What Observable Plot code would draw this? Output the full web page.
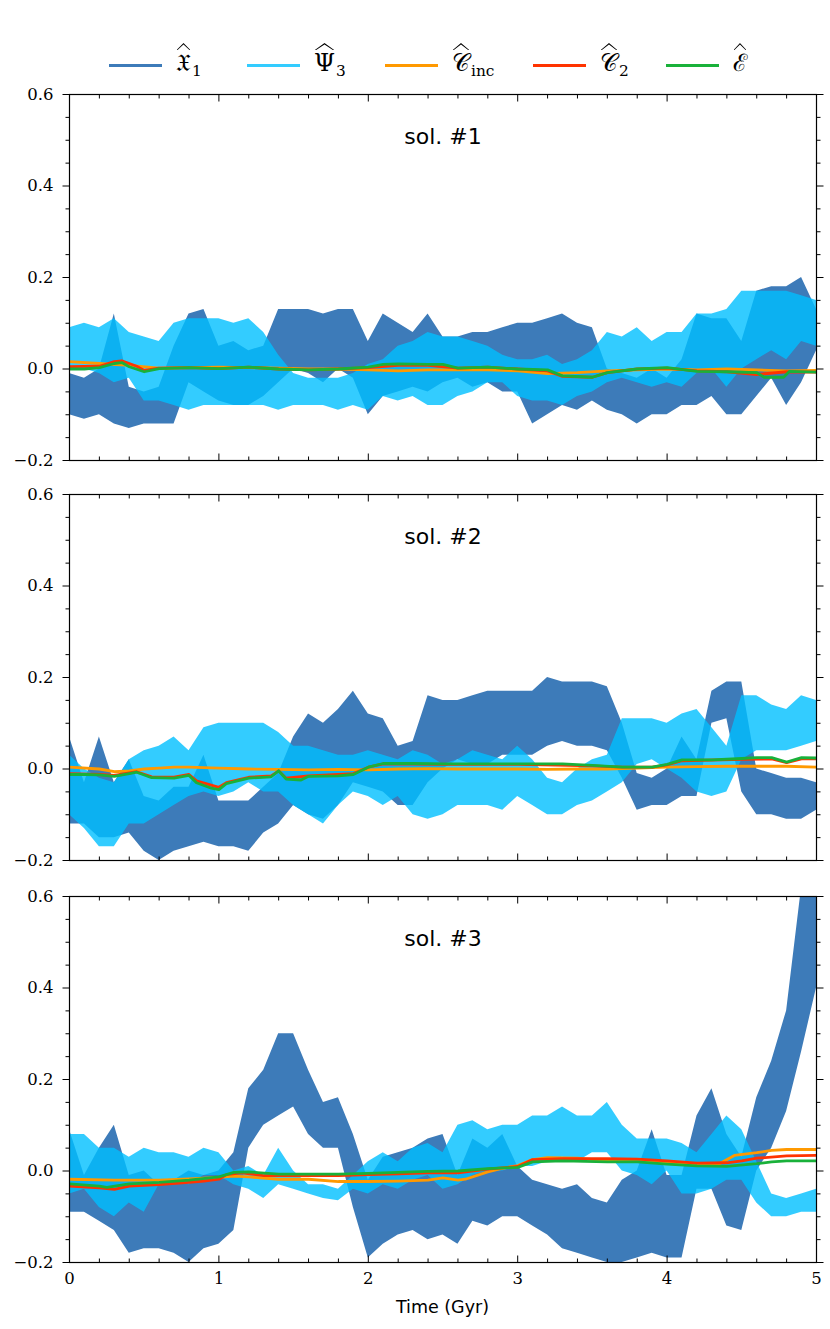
<!DOCTYPE html>
<html><head><meta charset="utf-8">
<script src="https://cdn.jsdelivr.net/npm/d3@7"></script>
<script src="https://cdn.jsdelivr.net/npm/@observablehq/plot@0.6"></script>
<style>
body{margin:0;background:#fff;width:830px;}
#legend{position:relative;height:84px;font-family:"DejaVu Serif",serif;color:#000;}
.sw{position:absolute;top:63.5px;width:53px;height:3px;}
.lab{position:absolute;top:48px;font-size:24px;line-height:30px;white-space:nowrap;}
.acc{position:relative;display:inline-block;}
.acc::after{content:"";position:absolute;left:4%;width:92%;top:-5px;height:7px;background:#000;
  clip-path:polygon(0 100%,50% 0,100% 100%,93% 100%,50% 22%,7% 100%);}
.sub{font-size:0.64em;position:relative;top:0.3em;margin-left:1px;}
#xlabel{height:31px;padding-left:69px;width:747px;text-align:center;font-family:"DejaVu Sans",sans-serif;font-size:17.5px;line-height:18px;}
svg{display:block}
</style></head>
<body>
<div id="legend"></div>
<div id="charts"></div>
<div id="xlabel">Time (Gyr)</div>
<script>
// ---------- data ----------
const timeGrid = [0.0,0.1,0.2,0.3,0.4,0.5,0.6,0.7,0.8,0.9,
  1.0,1.1,1.2,1.3,1.4,1.5,1.6,1.7,1.8,1.9,
  2.0,2.1,2.2,2.3,2.4,2.5,2.6,2.7,2.8,2.9,
  3.0,3.1,3.2,3.3,3.4,3.5,3.6,3.7,3.8,3.9,
  4.0,4.1,4.2,4.3,4.4,4.5,4.6,4.7,4.8,4.9,5.0];

const xMajor = [0,1,2,3,4,5];
const xMinor = [0.2,0.4,0.6,0.8,1.2,1.4,1.6,1.8,2.2,2.4,2.6,2.8,3.2,3.4,3.6,3.8,4.2,4.4,4.6,4.8];
const yMajor = [-0.2,0,0.2,0.4,0.6];
const yMinor = [-0.15,-0.1,-0.05,0.05,0.1,0.15,0.25,0.3,0.35,0.45,0.5,0.55];
const panelTitles = ["sol. #1","sol. #2","sol. #3"];

// sol 1  (noisy series: envelope low / high on timeGrid)
const sol1X1Lo = [-0.10,-0.11,-0.10,-0.12,-0.13,-0.12,-0.12,-0.12,-0.03,-0.05,
 -0.07,-0.08,-0.08,-0.06,-0.03,0.00,-0.01,-0.03,0.00,-0.02,
 -0.10,-0.06,-0.05,-0.04,-0.05,-0.03,-0.02,-0.04,-0.03,-0.05,
 -0.05,-0.12,-0.10,-0.08,-0.09,-0.07,-0.09,-0.10,-0.12,-0.10,
 -0.10,-0.08,-0.08,-0.06,-0.10,-0.10,-0.06,-0.02,-0.08,-0.03,
 0.04];
const sol1X1Hi = [-0.01,-0.02,0.00,0.12,-0.04,-0.05,-0.04,0.05,0.12,0.13,
 0.05,0.06,0.04,0.05,0.13,0.13,0.13,0.12,0.13,0.13,
 0.06,0.12,0.10,0.08,0.12,0.07,0.07,0.08,0.08,0.09,
 0.10,0.10,0.11,0.12,0.10,0.09,0.00,-0.01,-0.02,0.00,
 -0.02,0.02,0.12,0.11,0.11,0.06,0.17,0.18,0.18,0.20,
 0.13];
const sol1PsiLo = [0.00,0.00,-0.01,-0.03,-0.02,-0.07,-0.07,-0.08,-0.09,-0.08,
 -0.08,-0.08,-0.08,-0.08,-0.09,-0.08,-0.08,-0.08,-0.09,-0.08,
 -0.09,-0.06,-0.07,-0.06,-0.08,-0.08,-0.06,-0.05,-0.03,-0.03,
 -0.06,-0.07,-0.07,-0.08,-0.06,-0.05,-0.03,-0.02,-0.03,-0.04,
 -0.03,-0.04,-0.01,0.00,-0.04,0.00,0.02,0.04,0.02,0.06,
 0.05];
const sol1PsiHi = [0.09,0.10,0.09,0.11,0.08,0.07,0.06,0.10,0.11,0.11,
 0.11,0.10,0.11,0.08,0.03,-0.01,-0.02,-0.02,-0.02,-0.01,
 0.01,0.02,0.05,0.06,0.08,0.07,0.07,0.06,0.05,0.03,
 0.02,0.02,0.03,0.01,0.02,0.04,0.08,0.07,0.09,0.06,
 0.08,0.08,0.12,0.12,0.13,0.17,0.17,0.17,0.17,0.16,
 0.15];
const sol1Cinc = [[0,0.016],[0.2,0.012],[0.4,0.008],[0.6,0.002],[0.8,0.003],[1.0,0.004],[1.2,0.003],[1.4,0.002],[1.6,0.0],[1.8,0.0],[2.0,-0.002],[2.2,-0.004],[2.4,-0.002],[2.6,-0.002],[2.8,-0.002],[3.0,-0.004],[3.2,-0.01],[3.4,-0.008],[3.6,-0.004],[3.8,-0.002],[4.0,0.0],[4.2,-0.002],[4.4,0.0],[4.6,-0.002],[4.8,-0.004],[5.0,-0.003]];
const sol1C2 = [[0,0.005],[0.2,0.006],[0.3,0.016],[0.35,0.018],[0.45,0.006],[0.5,-0.003],[0.6,0.002],[0.8,0.003],[1.0,0.001],[1.2,0.004],[1.4,0.0],[1.6,-0.002],[1.8,0.0],[2.0,0.003],[2.2,0.008],[2.4,0.008],[2.6,0.002],[2.8,0.004],[3.0,0.0],[3.2,-0.004],[3.3,-0.016],[3.5,-0.018],[3.6,-0.008],[3.8,0.0],[4.0,0.002],[4.2,-0.004],[4.4,-0.006],[4.6,-0.012],[4.8,-0.006],[5.0,-0.007]];
const sol1E = [[0,0.0],[0.1,0.0],[0.2,0.003],[0.3,0.012],[0.35,0.014],[0.4,0.005],[0.5,-0.006],[0.6,0.001],[0.8,0.003],[1.0,0.001],[1.2,0.004],[1.4,0.0],[1.6,-0.002],[1.8,0.0],[2.0,0.004],[2.1,0.01],[2.2,0.011],[2.4,0.01],[2.5,0.01],[2.6,0.002],[2.8,0.004],[3.0,0.0],[3.2,-0.002],[3.3,-0.015],[3.5,-0.018],[3.6,-0.008],[3.8,0.0],[4.0,0.003],[4.2,-0.005],[4.4,-0.006],[4.6,-0.008],[4.65,-0.018],[4.78,-0.018],[4.82,-0.005],[5.0,-0.007]];

// sol 2
const sol2X1Lo = [-0.12,-0.12,-0.15,-0.15,-0.14,-0.18,-0.20,-0.18,-0.17,-0.16,
 -0.17,-0.17,-0.18,-0.14,-0.12,-0.08,-0.10,-0.11,-0.08,-0.03,
 -0.04,-0.05,-0.08,-0.08,-0.03,0.00,0.02,0.01,0.01,0.03,
 0.03,0.03,0.05,0.06,0.05,0.05,0.04,-0.02,-0.09,-0.08,
 -0.08,-0.06,-0.06,0.10,0.11,-0.05,-0.10,-0.10,-0.11,-0.11,
 -0.09];
const sol2X1Hi = [0.07,-0.03,0.07,-0.03,0.02,-0.06,-0.07,-0.04,-0.04,0.03,
 -0.07,-0.07,-0.07,-0.04,-0.01,0.07,0.12,0.10,0.13,0.17,
 0.12,0.11,0.05,0.06,0.16,0.15,0.15,0.16,0.17,0.17,
 0.17,0.17,0.20,0.19,0.19,0.19,0.18,0.10,-0.01,-0.02,
 0.00,0.07,0.02,0.17,0.19,0.19,0.00,-0.01,-0.02,-0.02,
 -0.03];
const sol2PsiLo = [-0.10,-0.13,-0.17,-0.17,-0.12,-0.12,-0.10,-0.08,-0.06,-0.05,
 -0.06,-0.05,-0.03,-0.05,-0.05,-0.08,-0.10,-0.12,-0.08,-0.05,
 -0.06,-0.08,-0.06,-0.10,-0.11,-0.10,-0.08,-0.08,-0.08,-0.09,
 -0.06,-0.08,-0.10,-0.10,-0.08,-0.07,-0.05,-0.03,0.01,0.02,
 0.00,-0.02,-0.05,-0.06,-0.05,0.02,0.04,0.04,0.04,0.05,
 0.06];
const sol2PsiHi = [0.03,0.00,-0.02,-0.03,0.02,0.04,0.05,0.07,0.04,0.09,
 0.10,0.10,0.10,0.10,0.08,0.05,0.05,0.04,0.03,0.03,
 0.04,0.03,0.02,0.04,0.03,0.01,0.02,0.04,0.03,0.02,
 0.05,0.02,-0.02,-0.03,0.00,0.02,0.03,0.11,0.11,0.11,
 0.10,0.12,0.13,0.09,0.05,0.16,0.16,0.14,0.13,0.16,
 0.15];
const sol2Cinc = [[0,0.004],[0.2,0.0],[0.3,-0.006],[0.4,-0.004],[0.5,0.0],[0.6,0.002],[0.7,0.004],[0.8,0.004],[1.0,0.002],[1.2,0.0],[1.4,-0.001],[1.6,-0.002],[1.8,-0.001],[2.0,-0.002],[2.2,0.0],[2.4,0.001],[2.6,0.0],[2.8,0.0],[3.0,0.0],[3.2,-0.001],[3.4,0.0],[3.6,0.0],[3.8,0.002],[4.0,0.004],[4.2,0.005],[4.4,0.006],[4.6,0.006],[4.8,0.006],[5.0,0.004]];
const sol2C2 = [[0,-0.01],[0.2,-0.012],[0.3,-0.014],[0.45,-0.006],[0.55,-0.017],[0.7,-0.018],[0.8,-0.012],[0.85,-0.026],[1.0,-0.04],[1.05,-0.03],[1.2,-0.018],[1.35,-0.015],[1.4,-0.004],[1.45,-0.02],[1.6,-0.015],[1.9,-0.01],[2.0,0.004],[2.1,0.011],[2.5,0.01],[3.0,0.01],[3.5,0.007],[3.7,0.004],[3.9,0.004],[4.0,0.009],[4.1,0.018],[4.5,0.021],[4.7,0.022],[4.8,0.014],[4.9,0.022],[5.0,0.022]];
const sol2E = [[0,-0.012],[0.1,-0.012],[0.2,-0.013],[0.3,-0.016],[0.4,-0.01],[0.45,-0.007],[0.55,-0.019],[0.7,-0.02],[0.8,-0.014],[0.85,-0.03],[0.95,-0.042],[1.0,-0.045],[1.05,-0.032],[1.2,-0.02],[1.35,-0.017],[1.4,-0.004],[1.45,-0.022],[1.55,-0.024],[1.6,-0.016],[1.8,-0.015],[1.9,-0.012],[2.0,0.004],[2.1,0.012],[2.3,0.012],[2.5,0.011],[2.8,0.011],[3.0,0.011],[3.3,0.011],[3.5,0.008],[3.7,0.004],[3.9,0.004],[4.0,0.01],[4.1,0.02],[4.3,0.02],[4.5,0.023],[4.6,0.025],[4.7,0.025],[4.8,0.015],[4.9,0.025],[5.0,0.024]];

// sol 3
const sol3X1Lo = [-0.09,-0.09,-0.11,-0.13,-0.18,-0.17,-0.17,-0.18,-0.20,-0.17,
 -0.16,-0.13,0.05,0.10,0.12,0.14,0.08,0.05,0.05,-0.08,
 -0.19,-0.16,-0.14,-0.13,-0.15,-0.14,-0.16,-0.11,-0.12,-0.10,
 -0.10,-0.12,-0.14,-0.17,-0.18,-0.19,-0.20,-0.20,-0.19,-0.18,
 -0.19,-0.19,-0.04,-0.04,-0.12,-0.13,0.00,0.05,0.13,0.26,
 0.40];
const sol3X1Hi = [0.09,-0.01,0.05,0.10,-0.01,0.00,-0.03,-0.02,0.00,-0.01,
 0.00,0.04,0.18,0.22,0.30,0.30,0.22,0.15,0.16,0.08,
 -0.02,0.03,0.04,0.05,0.07,0.08,-0.01,0.07,0.05,0.08,
 0.01,-0.02,-0.03,-0.04,-0.03,-0.06,-0.07,-0.02,0.00,0.09,
 -0.01,-0.01,0.12,0.18,0.08,0.03,0.16,0.24,0.35,0.62,
 0.62];
const sol3PsiLo = [-0.05,-0.04,-0.08,-0.10,-0.07,-0.09,-0.03,-0.02,-0.03,-0.01,
 -0.01,-0.03,-0.04,-0.06,-0.03,-0.04,-0.05,-0.06,-0.065,-0.04,
 -0.05,-0.03,-0.04,-0.02,-0.01,-0.04,-0.03,-0.01,0.00,0.00,
 0.01,0.01,0.02,0.03,0.02,0.04,0.04,0.00,-0.01,-0.03,
 0.00,-0.05,-0.05,-0.04,-0.02,-0.02,-0.07,-0.10,-0.10,-0.09,
 -0.09];
const sol3PsiHi = [0.08,0.08,0.05,0.05,0.03,0.05,0.04,0.04,0.03,0.05,
 0.04,0.00,0.01,-0.01,0.05,0.00,-0.03,-0.03,-0.04,-0.01,
 0.02,0.04,0.02,0.05,0.06,0.04,0.10,0.11,0.09,0.10,
 0.10,0.12,0.12,0.14,0.12,0.12,0.15,0.10,0.07,0.07,
 0.07,0.06,0.04,0.08,0.12,0.09,0.02,-0.05,-0.06,-0.05,
 -0.04];
const sol3Cinc = [[0,-0.018],[0.3,-0.02],[0.6,-0.02],[0.8,-0.017],[1.0,-0.014],[1.1,-0.011],[1.2,-0.013],[1.4,-0.018],[1.6,-0.018],[1.8,-0.023],[2.0,-0.023],[2.2,-0.022],[2.4,-0.02],[2.5,-0.015],[2.6,-0.02],[2.65,-0.018],[2.8,-0.002],[2.9,0.006],[3.0,0.012],[3.1,0.025],[3.2,0.029],[3.4,0.028],[3.6,0.022],[3.8,0.022],[4.0,0.02],[4.2,0.015],[4.35,0.016],[4.45,0.034],[4.6,0.04],[4.7,0.045],[4.8,0.047],[5.0,0.047]];
const sol3C2 = [[0,-0.033],[0.2,-0.037],[0.3,-0.04],[0.4,-0.033],[0.6,-0.03],[0.8,-0.025],[0.9,-0.022],[1.0,-0.018],[1.05,-0.008],[1.15,-0.004],[1.3,-0.01],[1.6,-0.01],[1.8,-0.01],[2.0,-0.008],[2.2,-0.006],[2.4,-0.004],[2.6,-0.004],[2.8,0.004],[3.0,0.01],[3.1,0.025],[3.3,0.027],[3.6,0.027],[3.8,0.026],[4.0,0.022],[4.2,0.017],[4.4,0.018],[4.5,0.022],[4.6,0.028],[4.8,0.033],[5.0,0.034]];
const sol3E = [[0,-0.028],[0.2,-0.033],[0.25,-0.036],[0.4,-0.028],[0.6,-0.025],[0.8,-0.02],[1.0,-0.013],[1.1,-0.003],[1.2,-0.002],[1.4,-0.007],[1.6,-0.007],[1.8,-0.007],[2.0,-0.005],[2.2,-0.003],[2.4,-0.001],[2.6,0.0],[2.8,0.005],[3.0,0.008],[3.1,0.02],[3.3,0.022],[3.6,0.02],[3.8,0.02],[4.0,0.015],[4.2,0.011],[4.4,0.01],[4.6,0.016],[4.7,0.02],[4.8,0.022],[5.0,0.022]];

const colors = {x1:"#3d7bb9", psi:"#00bfff", cinc:"#ff9900", c2:"#ff3300", e:"#19b13a"};

// ---------- legend ----------
const hat = (s) => `<span class="acc">${s}</span>`;
const legendItems = [
  {left:109, color:colors.x1, label: hat("𝔛") + '<span class="sub">1</span>'},
  {left:247, color:"#33ccff", label: hat("Ψ") + '<span class="sub">3</span>'},
  {left:385, color:colors.cinc, label: hat("𝒞") + '<span class="sub">inc</span>'},
  {left:533, color:colors.c2, label: hat("𝒞") + '<span class="sub">2</span>'},
  {left:666, color:colors.e, label: hat("ℰ")}
];
const leg = document.getElementById("legend");
for (const it of legendItems) {
  const sw = document.createElement("div");
  sw.className = "sw"; sw.style.left = it.left + "px"; sw.style.background = it.color;
  leg.appendChild(sw);
  const lb = document.createElement("div");
  lb.className = "lab"; lb.style.left = (it.left + 67) + "px"; lb.innerHTML = it.label;
  leg.appendChild(lb);
}

// ---------- panels ----------
const fmt = d3.format(".1f");
const toPts = (arr) => arr.map(([t, v]) => ({t, v}));
const band = (lo, hi) => timeGrid.map((t, i) => ({t, lo: lo[i], hi: hi[i]}));
const serif = "DejaVu Serif";

function panel(title, x1Lo, x1Hi, psiLo, psiHi, cinc, c2, e, mt, mb, showX) {
  const tickStyle = {stroke: "black", fill: "none", label: null, strokeWidth: 1};
  return Plot.plot({
    width: 830, height: mt + 366 + mb,
    marginLeft: 69, marginRight: 14, marginTop: mt, marginBottom: mb,
    x: {domain: [0, 5]},
    y: {domain: [-0.2, 0.6]},
    style: "font-family: 'DejaVu Serif', serif; font-size: 16.5px; color: black; background: white;",
    marks: [
      Plot.areaY(band(x1Lo, x1Hi), {x: "t", y1: "lo", y2: "hi", fill: colors.x1, clip: true}),
      Plot.areaY(band(psiLo, psiHi), {x: "t", y1: "lo", y2: "hi", fill: colors.psi, fillOpacity: 0.8, clip: true}),
      Plot.line(toPts(cinc), {x: "t", y: "v", stroke: colors.cinc, strokeWidth: 2.8, clip: true}),
      Plot.line(toPts(c2), {x: "t", y: "v", stroke: colors.c2, strokeWidth: 2.8, clip: true}),
      Plot.line(toPts(e), {x: "t", y: "v", stroke: colors.e, strokeWidth: 2.8, clip: true}),
      Plot.frame({stroke: "black", strokeWidth: 1.2}),
      Plot.axisX({anchor: "bottom", ticks: xMajor, tickSize: -6.5, ...tickStyle}),
      Plot.axisX({anchor: "bottom", ticks: xMinor, tickSize: -3.5, ...tickStyle}),
      Plot.axisX({anchor: "top", ticks: xMajor, tickSize: -6.5, ...tickStyle}),
      Plot.axisX({anchor: "top", ticks: xMinor, tickSize: -3.5, ...tickStyle}),
      Plot.axisY({anchor: "left", ticks: yMajor, tickSize: 6.5, ...tickStyle}),
      Plot.axisY({anchor: "left", ticks: yMinor, tickSize: 3.5, ...tickStyle}),
      Plot.axisY({anchor: "right", ticks: yMajor, tickSize: 6.5, ...tickStyle}),
      Plot.axisY({anchor: "right", ticks: yMinor, tickSize: 3.5, ...tickStyle}),
      Plot.axisY({anchor: "left", ticks: yMajor, tickSize: 0, tickPadding: 16, tickFormat: fmt, label: null, fill: "black", fontFamily: serif, fontSize: 16.5}),
      showX ? Plot.axisX({anchor: "bottom", ticks: xMajor, tickSize: 0, tickPadding: 10, tickFormat: d => String(d), label: null, fill: "black", fontFamily: serif, fontSize: 16.5}) : null,
      Plot.text([title], {text: d => d, frameAnchor: "top", dy: 34, fontSize: 22, fontFamily: "DejaVu Sans", fill: "black"})
    ]
  });
}

const charts = document.getElementById("charts");
charts.appendChild(panel(panelTitles[0], sol1X1Lo, sol1X1Hi, sol1PsiLo, sol1PsiHi, sol1Cinc, sol1C2, sol1E, 10, 10, false));
charts.appendChild(panel(panelTitles[1], sol2X1Lo, sol2X1Hi, sol2PsiLo, sol2PsiHi, sol2Cinc, sol2C2, sol2E, 24, 10, false));
charts.appendChild(panel(panelTitles[2], sol3X1Lo, sol3X1Hi, sol3PsiLo, sol3PsiHi, sol3Cinc, sol3C2, sol3E, 26, 36, true));
</script>
</body></html>
